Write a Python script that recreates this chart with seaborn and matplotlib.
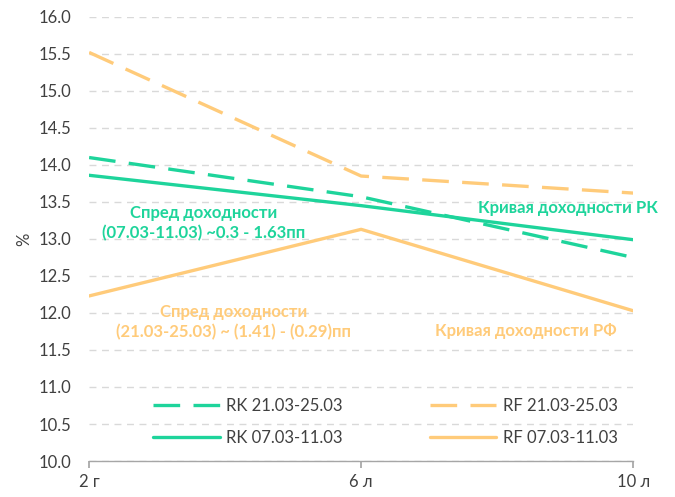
import matplotlib
matplotlib.use("Agg")
import matplotlib.pyplot as plt
import seaborn as sns
import pandas as pd

terms = ["2 г", "6 л", "10 л"]
rk_2103 = [14.10, 13.57, 12.75]
rf_2103 = [15.52, 13.85, 13.62]
rk_0703 = [13.86, 13.45, 12.99]
rf_0703 = [12.23, 13.13, 12.03]
series_names = ["RK 21.03-25.03", "RK 07.03-11.03", "RF 21.03-25.03", "RF 07.03-11.03"]
yticks = [10.0, 10.5, 11.0, 11.5, 12.0, 12.5, 13.0, 13.5, 14.0, 14.5, 15.0, 15.5, 16.0]

GREEN = "#1ED49B"
ORANGE = "#FFCB7A"

sns.set_theme(style="white")
plt.rcParams['font.family'] = ['Lato', 'DejaVu Sans']

rows = []
for name, vals in zip(series_names, [rk_2103, rk_0703, rf_2103, rf_0703]):
    for t, v in zip(terms, vals):
        rows.append({"term": t, "value": v, "series": name})
df = pd.DataFrame(rows)

fig = plt.figure(figsize=(6.75, 4.97), dpi=100)
ax = fig.add_axes([0.132, 0.0724, 0.806, 0.8936])

palette = {series_names[0]: GREEN, series_names[1]: GREEN,
           series_names[2]: ORANGE, series_names[3]: ORANGE}
dashes = {series_names[0]: (8, 4), series_names[1]: "",
          series_names[2]: (8, 4), series_names[3]: ""}
sns.lineplot(data=df, x="term", y="value", hue="series", style="series",
             palette=palette, dashes=dashes, linewidth=2.4, ax=ax,
             hue_order=series_names, style_order=series_names, sort=False)

ax.set_xlim(0, 2)
ax.set_ylim(10, 16)
ax.set_yticks(yticks)
ax.set_yticklabels([f"{v:.1f}" for v in yticks])
ax.set_xlabel("")
ax.set_ylabel("%", fontsize=12, color="#404040")
ax.yaxis.grid(True, linestyle=(0, (5, 4)), color="#D9D9D9", linewidth=1)
ax.set_axisbelow(True)
for s in ["left", "right", "top"]:
    ax.spines[s].set_visible(False)
ax.spines["bottom"].set_color("#A6A6A6")
ax.spines["bottom"].set_linewidth(1)
ax.tick_params(axis="x", bottom=True, length=5, color="#A6A6A6", labelsize=12,
               labelcolor="#404040", pad=4)
ax.tick_params(axis="y", left=False, labelsize=12, labelcolor="#404040", pad=7)

handles, labels = ax.get_legend_handles_labels()
hmap = dict(zip(labels, handles))
leg = ax.legend([hmap[n] for n in series_names], series_names, ncol=2,
                loc="lower left", bbox_to_anchor=(0.09, 0.0), frameon=False,
                fontsize=12, handlelength=4.0, columnspacing=5.2,
                labelspacing=0.95, handletextpad=0.4)
for t in leg.get_texts():
    t.set_color("#404040")

ax.text(0.42, 13.22, "Спред доходности\n(07.03-11.03) ~0.3 - 1.63пп", color=GREEN,
        fontsize=12, fontweight="bold", ha="center", va="center", linespacing=1.3)
ax.text(1.43, 13.42, "Кривая доходности РК", color=GREEN,
        fontsize=12, fontweight="bold", ha="left", va="center")
ax.text(0.53, 11.87, "Спред доходности\n(21.03-25.03) ~ (1.41) - (0.29)пп", color=ORANGE,
        fontsize=12, fontweight="bold", ha="center", va="center", linespacing=1.3)
ax.text(1.27, 11.75, "Кривая доходности РФ", color=ORANGE,
        fontsize=12, fontweight="bold", ha="left", va="center")

fig.savefig("out.png", dpi=100)
